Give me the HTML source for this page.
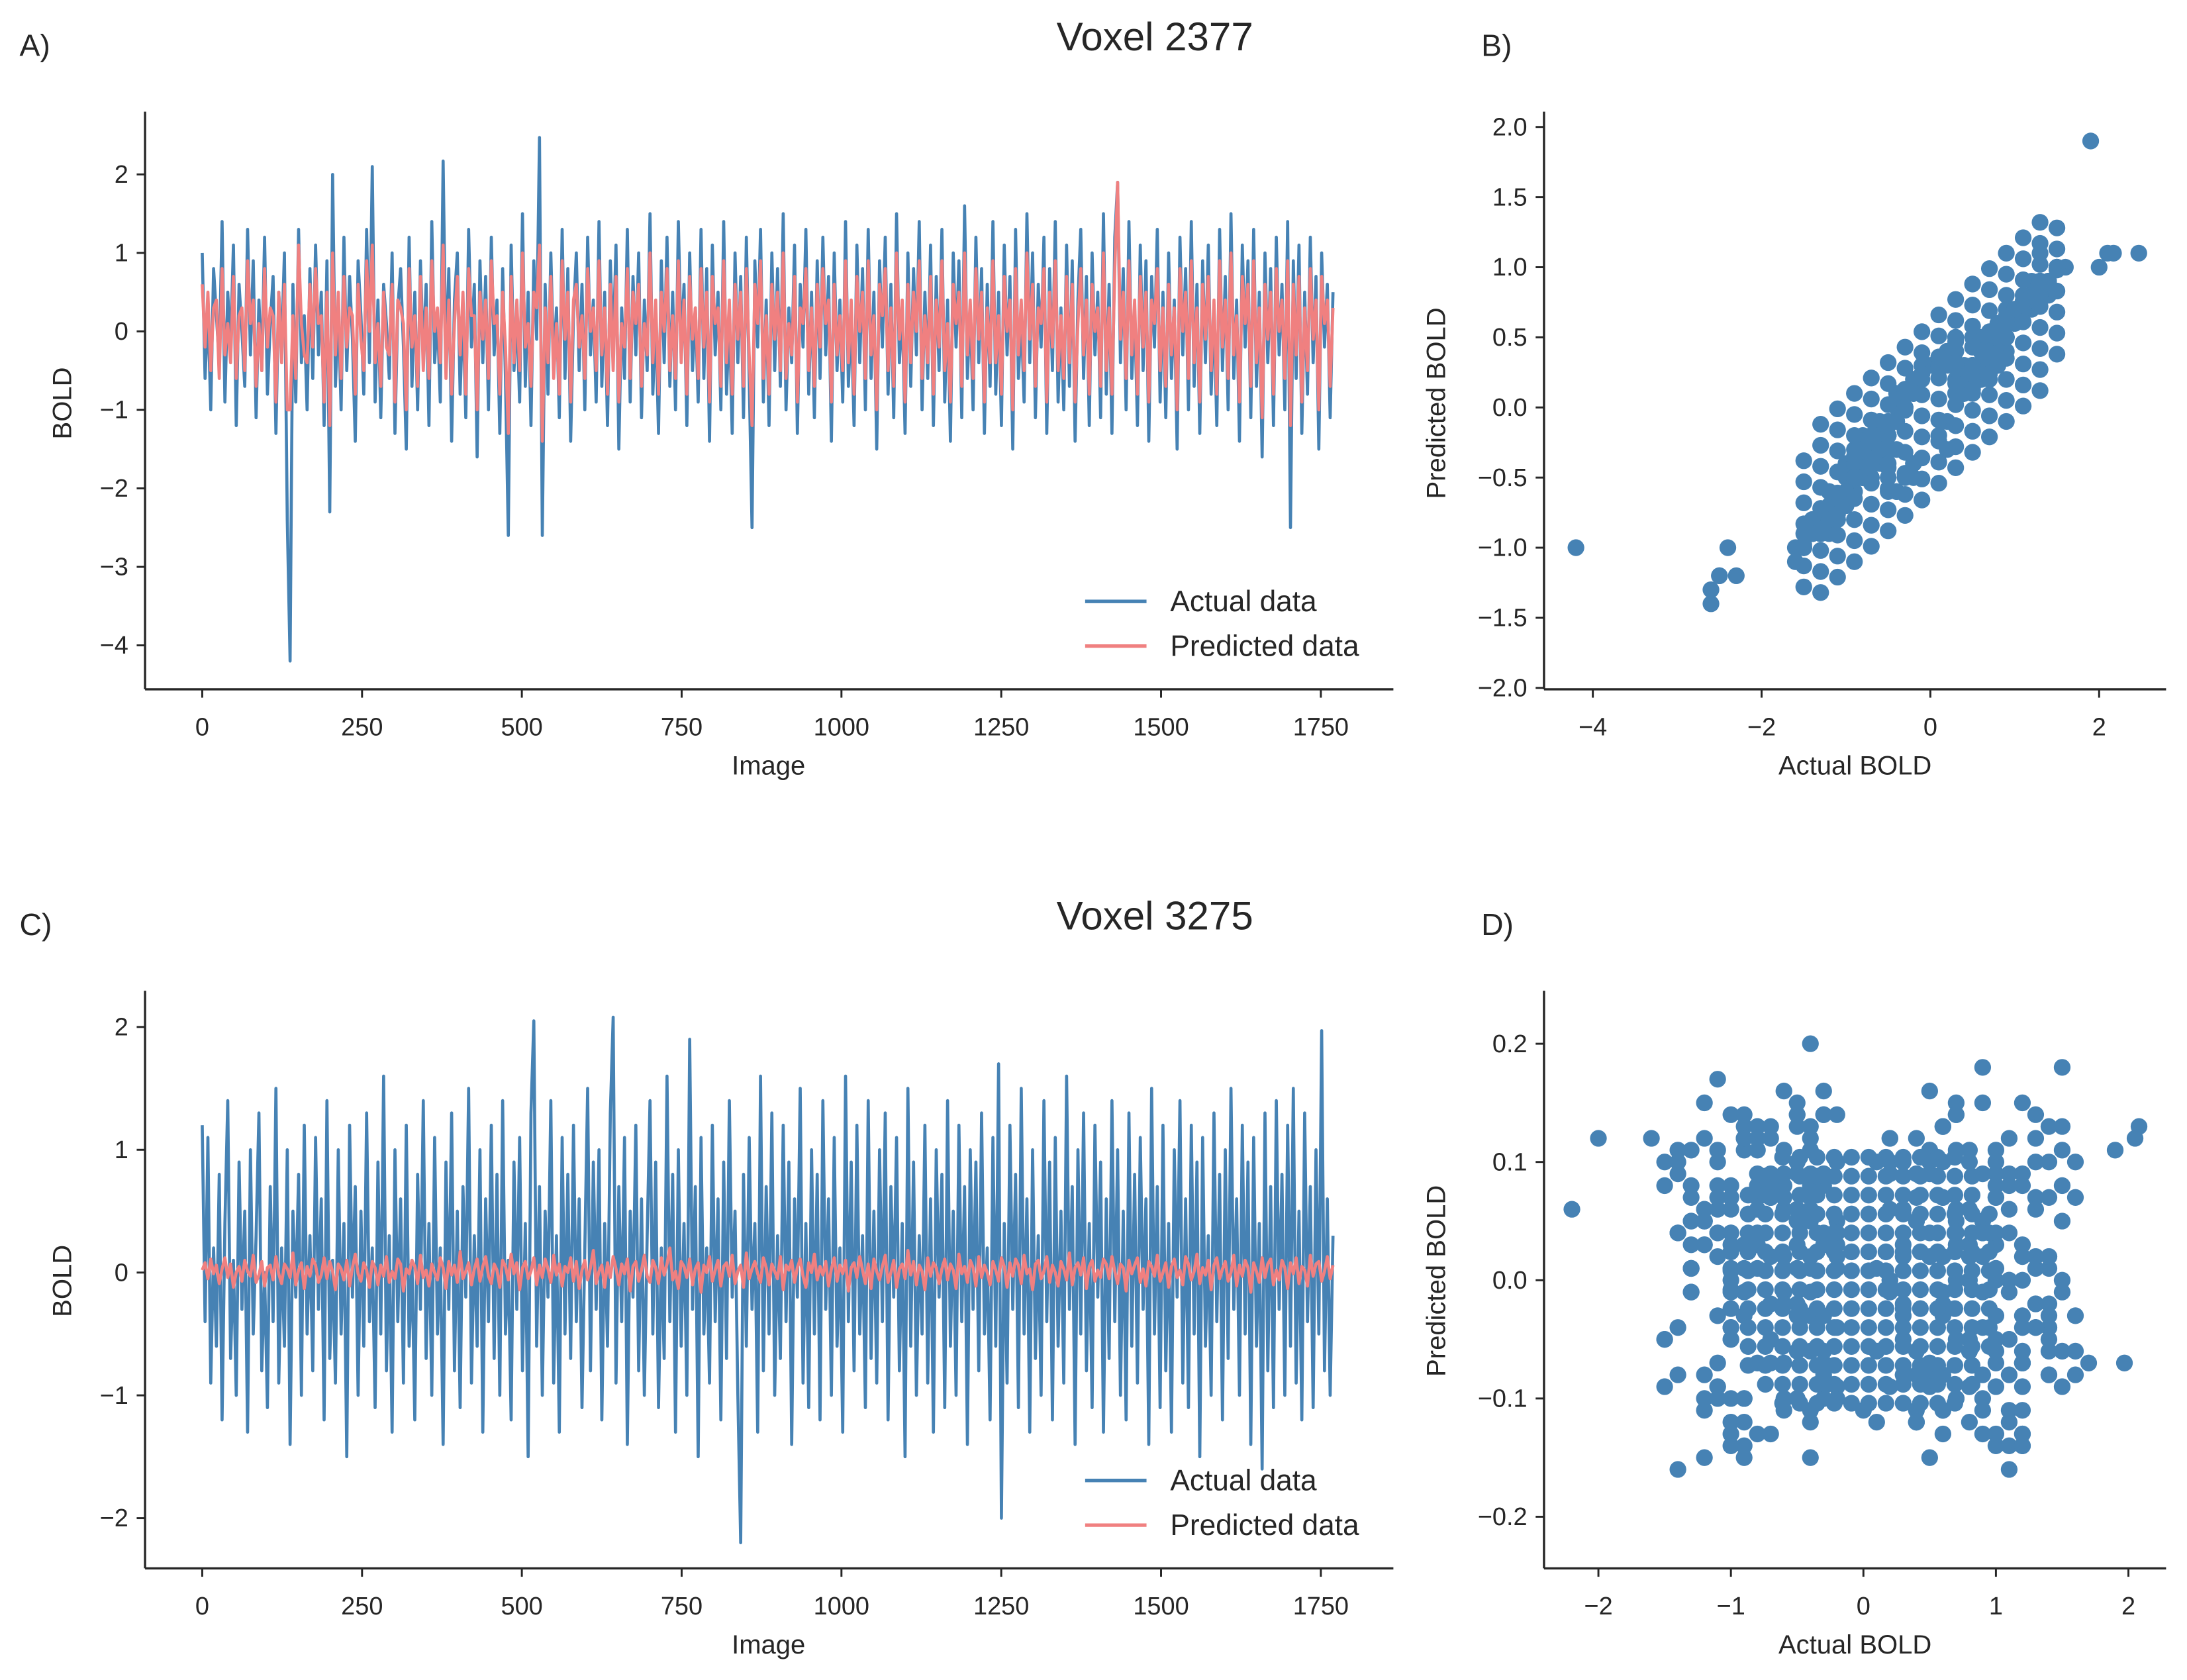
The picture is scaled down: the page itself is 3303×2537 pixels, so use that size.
<!DOCTYPE html>
<html><head><meta charset="utf-8">
<style>
html,body{margin:0;padding:0;background:#fff;}
svg{display:block;}
text{font-family:"Liberation Sans",sans-serif;fill:#262626;}
</style></head>
<body>
<svg id="fig" xmlns="http://www.w3.org/2000/svg" width="3303" height="2537" viewBox="0 0 1568 1204" preserveAspectRatio="none">
<rect width="1568" height="1204" fill="#fff"/>
<text x="14" y="40" font-size="22">A)</text>
<text x="1062" y="40" font-size="22">B)</text>
<text x="14" y="670" font-size="22">C)</text>
<text x="1062" y="670" font-size="22">D)</text>
<text x="828" y="36" font-size="28.5" text-anchor="middle">Voxel 2377</text>
<text x="828" y="666" font-size="28.5" text-anchor="middle">Voxel 3275</text>
<g id="layer"></g>
</svg>
<script>
const aActual=[1.0,-0.6,0.3,-1.0,0.8,0.2,-0.4,1.4,-0.9,0.5,-0.2,1.1,-1.2,0.6,0.0,-0.7,1.3,-0.3,0.9,-1.1,
0.4,-0.5,1.2,-0.8,0.1,0.7,-1.3,0.5,-0.2,1.0,-2.4,-4.2,0.6,-0.9,1.3,-0.4,0.2,-1.0,0.8,-0.6,
1.1,-0.3,0.5,-1.2,0.9,-2.3,2.0,-0.7,0.3,-1.0,1.2,-0.5,0.7,-0.1,-1.4,0.9,0.2,-0.8,1.3,-0.4,
2.1,-0.9,0.4,-1.1,0.6,0.1,-0.6,1.0,-1.3,0.3,0.8,-0.2,-1.5,1.2,-0.7,0.5,-1.0,0.9,-0.3,0.6,
-1.2,1.4,-0.4,0.2,-0.9,2.17,-0.5,0.8,-1.4,0.4,1.0,-0.8,0.3,-1.1,1.3,-0.2,0.6,-1.6,0.9,-0.4,
0.7,-1.0,1.2,-0.3,0.4,-1.3,0.8,-0.6,-2.6,1.1,-0.5,0.2,-0.9,1.5,-0.7,0.5,-1.2,0.9,-0.1,2.47,
-2.6,0.6,-0.8,1.0,-0.4,0.3,-1.1,1.3,-0.6,0.8,-1.4,0.2,1.0,-0.5,0.6,-1.0,1.2,-0.3,0.4,-0.9,
1.4,-0.7,0.5,-1.2,0.9,-0.2,1.1,-1.5,0.3,-0.6,1.3,-0.9,0.7,-0.3,1.0,-1.1,0.4,-0.5,1.5,-0.8,
0.2,-1.3,0.9,-0.4,1.2,-0.7,0.5,-1.0,1.4,-0.2,0.6,-1.2,1.0,-0.5,0.3,-0.9,1.3,-0.6,0.8,-1.4,
1.1,-0.3,0.5,-1.0,1.4,-0.8,0.2,-1.3,1.0,-0.4,0.7,-1.1,1.2,-0.6,-2.5,0.9,-0.2,1.3,-0.9,0.4,
-1.2,1.0,-0.5,0.8,-0.7,1.5,-1.0,0.3,-0.4,1.1,-1.3,0.6,-0.2,1.3,-0.8,0.5,-1.1,0.9,-0.6,1.2,
-0.3,0.7,-1.4,1.0,-0.5,0.4,-0.9,1.4,-0.7,0.2,-1.2,1.1,-0.4,0.8,-1.0,1.3,-0.6,0.5,-1.5,0.9,
-0.2,1.2,-0.8,0.6,-1.1,1.5,-0.4,0.3,-1.3,1.0,-0.7,0.8,-0.3,1.4,-1.0,0.5,-0.6,1.1,-1.2,0.7,
-0.5,1.3,-0.9,0.4,-1.4,1.0,-0.2,0.9,-1.1,1.6,-0.6,0.3,-1.0,1.2,-0.4,0.8,-1.3,0.6,-0.7,1.4,
-0.8,0.5,-1.2,1.1,-0.3,0.7,-1.5,1.3,-0.6,0.2,-0.9,1.5,-0.4,1.0,-1.1,0.6,-0.2,1.2,-1.3,0.8,
-0.5,1.4,-0.9,0.3,-1.0,1.1,-0.7,0.9,-1.4,0.4,1.3,-0.6,0.7,-1.2,1.0,-0.3,0.5,-1.1,1.5,-0.8,
0.6,-1.3,1.2,1.9,-0.4,0.8,-1.0,1.4,-0.6,0.3,-1.2,1.1,-0.5,0.9,-1.4,0.7,-0.2,1.3,-0.9,0.5,
-1.1,1.0,-0.6,0.4,-1.5,1.2,-0.3,0.8,-1.0,1.4,-0.7,0.6,-1.3,0.9,-0.4,1.1,-0.8,0.3,-1.2,1.3,
-0.5,0.7,-1.0,1.5,-0.6,0.4,-1.4,1.1,-0.2,0.9,-1.1,1.3,-0.7,0.5,-1.6,1.0,-0.4,0.8,-1.2,1.2,
-0.3,0.6,-1.0,1.4,-2.5,0.9,-0.6,1.1,-1.3,0.5,-0.8,1.2,-0.4,0.7,-1.5,1.0,-0.2,0.6,-1.1,0.5];
const aPredicted=[0.6,-0.2,0.5,-0.5,0.3,0.4,-0.6,0.8,-0.3,0.1,-0.4,0.7,-0.6,0.2,0.3,-0.5,0.9,0.1,0.4,-0.7,
0.1,-0.5,0.8,-0.2,0.3,0.2,-0.9,0.5,-0.4,0.6,-1.0,-1.0,0.2,-0.6,1.1,0.1,-0.3,-0.4,0.6,-0.2,
0.8,0.1,0.2,-0.9,0.5,-1.2,1.0,-0.3,0.5,-0.6,0.7,-0.2,0.3,0.2,-0.8,0.6,-0.1,-0.5,0.9,0.0,
1.1,-0.4,0.1,-0.7,0.5,-0.2,-0.3,0.6,-0.9,0.4,0.3,0.1,-1.0,0.8,-0.2,0.2,-0.7,0.7,-0.5,0.3,
-0.6,0.9,0.0,0.3,-0.4,1.1,-0.6,0.4,-0.8,0.1,0.7,-0.3,0.5,-0.8,0.8,0.2,0.2,-1.0,0.5,-0.1,
0.4,-0.6,0.9,0.1,0.2,-0.8,0.5,-0.2,-1.3,0.7,-0.4,0.4,-0.5,1.0,-0.2,0.1,-0.7,0.5,0.3,1.1,
-1.4,0.3,-0.4,0.7,-0.6,0.1,-0.8,0.9,-0.1,0.5,-0.9,0.4,0.6,-0.2,0.2,-0.6,0.8,0.0,0.3,-0.5,
0.9,-0.3,0.3,-0.8,0.6,-0.5,0.7,-0.9,0.1,-0.2,0.8,-0.6,0.5,0.1,0.6,-0.7,0.1,-0.3,1.0,-0.4,
0.4,-0.8,0.5,0.0,0.8,-0.5,0.2,-0.6,0.9,-0.4,0.4,-0.8,0.7,-0.1,0.3,-0.6,0.8,-0.2,0.5,-0.9,
0.7,0.1,0.3,-0.7,0.9,-0.4,0.4,-0.8,0.6,-0.1,0.5,-0.7,0.8,-0.3,-1.2,0.6,0.1,0.9,-0.6,0.2,
-0.8,0.6,-0.1,0.5,-0.5,1.0,-0.6,0.1,-0.3,0.7,-0.9,0.3,0.1,0.8,-0.5,0.3,-0.7,0.6,-0.2,0.8,
0.1,0.4,-0.9,0.6,-0.3,0.2,-0.5,0.9,-0.4,0.4,-0.8,0.7,0.0,0.5,-0.6,0.9,-0.3,0.2,-1.0,0.6,
0.2,0.8,-0.5,0.3,-0.7,1.0,-0.1,0.4,-0.9,0.6,-0.4,0.5,0.0,0.9,-0.6,0.2,-0.4,0.7,-0.8,0.4,
-0.2,0.9,-0.5,0.1,-0.9,0.6,0.1,0.5,-0.7,1.0,-0.3,0.4,-0.6,0.8,-0.1,0.5,-0.9,0.3,-0.4,0.9,
-0.4,0.2,-0.8,0.7,0.0,0.4,-1.0,0.8,-0.3,0.4,-0.5,1.0,-0.1,0.6,-0.7,0.3,0.1,0.8,-0.9,0.5,
-0.2,0.9,-0.5,0.2,-0.6,0.7,-0.4,0.6,-0.9,0.1,0.8,-0.3,0.4,-0.8,0.6,0.0,0.3,-0.7,1.0,-0.5,
0.3,-0.8,0.8,1.9,-0.1,0.5,-0.6,0.9,-0.3,0.4,-0.8,0.7,-0.2,0.5,-0.9,0.4,0.1,0.8,-0.5,0.3,
-0.7,0.6,-0.3,0.3,-1.0,0.8,0.0,0.5,-0.6,0.9,-0.4,0.3,-0.9,0.6,-0.1,0.7,-0.5,0.4,-0.8,0.9,
-0.2,0.4,-0.6,1.0,-0.3,0.2,-0.9,0.7,0.1,0.6,-0.7,0.9,-0.4,0.3,-1.1,0.6,-0.1,0.5,-0.8,0.8,
0.0,0.4,-0.6,0.9,-1.2,0.6,-0.3,0.7,-0.9,0.3,-0.5,0.8,-0.1,0.4,-1.0,0.7,0.1,0.4,-0.7,0.3];
const cActual=[1.2,-0.4,1.1,-0.9,0.2,-0.6,0.8,-1.2,0.4,1.4,-0.7,0.1,-1.0,0.9,-0.3,0.5,-1.3,1.0,-0.5,0.3,
1.3,-0.8,0.0,-1.1,0.7,-0.4,1.5,-0.9,0.2,-0.6,1.0,-1.4,0.5,-0.2,0.8,-1.0,1.2,-0.5,0.3,-0.8,
1.1,-0.3,0.6,-1.2,1.4,-0.7,0.1,-0.9,1.0,-0.5,0.4,-1.5,1.2,-0.2,0.7,-1.0,0.5,-0.6,1.3,-0.4,
0.2,-1.1,0.9,-0.5,1.6,-0.8,0.3,-1.3,1.0,-0.4,0.6,-0.9,1.2,-0.6,0.1,-1.2,0.8,-0.3,1.4,-0.7,
0.4,-1.0,1.1,-0.5,0.2,-1.4,0.9,-0.3,1.3,-0.8,0.5,-1.1,0.7,-0.2,1.5,-0.9,0.3,-0.6,1.0,-1.3,
0.6,-0.4,1.2,-0.7,0.8,-1.0,1.4,-0.5,0.1,-1.2,0.9,-0.3,1.1,-0.8,0.4,-1.5,1.3,2.05,-0.6,0.7,
-1.0,0.5,-0.2,1.4,-0.9,0.3,-1.3,1.1,-0.5,0.8,-0.7,1.2,-0.4,0.6,-1.1,0.2,1.5,-0.8,0.9,-0.3,
1.0,-1.2,0.4,-0.6,1.3,2.08,-0.9,0.7,-0.4,1.1,-1.4,0.5,-0.2,1.2,-0.8,0.6,-1.0,0.3,1.4,-0.5,
0.9,-1.1,0.2,-0.7,1.6,-0.4,0.8,-1.3,1.0,-0.6,0.4,-1.0,1.9,-0.3,0.7,-1.5,1.1,-0.5,0.2,-0.9,
1.2,-0.4,0.6,-1.2,0.9,-0.7,1.4,-0.2,0.5,-1.0,-2.2,0.8,-0.6,1.1,-0.3,0.4,-1.3,1.6,-0.8,0.7,
-0.5,1.3,-1.0,0.3,-0.7,1.2,-0.4,0.9,-1.4,0.6,-0.2,1.5,-0.9,0.4,-1.1,1.0,-0.5,0.8,-1.2,1.4,
-0.3,0.6,-1.0,1.1,-0.6,0.2,-1.3,1.6,-0.4,0.9,-0.8,1.2,-0.5,0.3,-1.1,1.4,-0.7,0.5,-0.9,1.0,
-0.4,1.3,-1.2,0.7,-0.2,1.1,-0.8,0.4,-1.5,1.5,-0.6,0.9,-1.0,0.3,-0.5,1.2,-0.9,0.6,-1.3,1.0,
-0.2,0.8,-1.1,1.4,-0.6,0.5,-1.0,1.2,-0.4,0.7,-1.4,1.0,-0.3,0.9,-0.8,1.3,-0.5,0.2,-1.2,1.1,
-0.6,1.7,-2.0,0.4,-0.9,1.2,-0.3,0.8,-1.1,1.5,-0.5,0.6,-1.3,1.0,-0.7,0.3,-1.0,1.4,-0.4,0.9,
-1.2,1.1,-0.6,0.5,-0.9,1.6,-0.3,0.7,-1.4,1.0,-0.5,1.3,-0.8,0.4,-1.1,1.2,-0.2,0.9,-1.3,0.6,
-0.7,1.4,-0.4,1.0,-1.0,0.5,-1.2,1.3,-0.6,0.8,-0.9,1.1,-0.3,0.6,-1.4,1.5,-0.5,0.7,-1.1,1.2,
-0.8,0.4,-1.3,1.0,-0.2,1.4,-0.9,0.6,-1.1,1.2,-0.5,0.9,-1.5,1.1,-0.6,0.3,-1.0,1.3,-0.4,0.8,
-1.2,1.0,-0.7,1.5,-0.3,0.6,-1.0,1.2,-0.5,0.9,-1.4,1.1,-0.6,0.4,-1.6,1.3,-0.8,0.7,-1.1,1.4,
-0.3,0.8,-1.0,1.2,-0.6,1.5,-0.9,0.5,-1.2,1.3,-0.4,0.7,-1.1,1.0,-0.5,1.97,-0.8,0.6,-1.0,0.3];
const cPredicted=[0.02,0.08,-0.05,0.11,-0.01,0.06,-0.09,0.03,0.12,-0.04,0.07,-0.12,0.00,0.05,-0.07,0.10,0.01,-0.03,0.14,-0.08,
-0.02,0.09,-0.11,0.04,0.06,-0.06,0.13,-0.01,-0.09,0.07,0.03,-0.04,0.16,-0.10,0.02,0.08,-0.13,0.05,-0.03,0.11,
0.06,-0.08,-0.02,0.12,-0.05,0.09,0.01,-0.14,0.07,0.03,-0.06,0.10,-0.11,0.04,0.15,-0.01,-0.07,0.08,0.02,-0.12,
0.09,0.04,-0.10,0.06,-0.03,0.13,-0.08,0.01,-0.05,0.11,0.07,-0.15,0.03,-0.01,0.10,0.05,-0.09,0.14,-0.04,0.02,
-0.11,0.07,0.00,-0.06,0.12,0.04,-0.13,0.09,-0.02,0.06,-0.08,0.17,-0.05,0.01,0.08,-0.10,0.03,0.11,-0.07,0.05,
0.13,-0.03,-0.09,0.07,0.02,-0.12,0.10,0.05,-0.06,0.15,-0.01,0.08,-0.14,0.04,0.09,-0.05,0.01,0.12,-0.10,0.06,
-0.04,0.11,0.03,-0.08,0.14,-0.02,0.07,-0.11,0.05,0.00,0.12,-0.07,0.09,-0.13,0.02,0.10,-0.06,0.04,0.18,-0.09,
0.01,0.06,-0.12,0.08,-0.04,0.13,0.03,-0.10,0.07,-0.01,0.11,-0.15,0.05,0.09,-0.07,0.02,0.14,-0.03,-0.08,0.10,
0.04,-0.09,0.12,-0.02,0.07,0.20,-0.06,0.01,-0.13,0.09,0.05,-0.04,0.11,-0.10,0.03,0.08,-0.16,0.06,0.00,0.13,
-0.07,0.02,0.10,-0.11,0.05,0.08,-0.03,0.14,-0.09,0.01,0.06,-0.12,0.16,-0.05,0.03,0.09,-0.01,-0.08,0.12,0.04,
-0.10,0.07,0.01,-0.05,0.13,-0.14,0.06,0.02,0.10,-0.08,0.04,0.11,-0.03,-0.12,0.08,0.00,0.15,-0.06,0.05,-0.02,
0.09,-0.11,0.03,0.12,-0.07,0.06,-0.01,0.10,-0.15,0.04,0.08,-0.04,0.13,0.02,-0.09,0.07,-0.13,0.11,0.01,-0.06,
0.05,0.14,-0.08,0.00,0.10,-0.12,0.03,0.07,-0.05,0.18,-0.02,0.09,-0.10,0.06,0.01,-0.14,0.12,-0.03,0.08,0.04,
-0.09,0.03,0.11,-0.06,0.07,0.02,-0.13,0.15,-0.01,0.05,-0.08,0.10,0.04,-0.11,0.13,-0.04,0.06,0.00,-0.10,0.09,
0.02,-0.07,0.12,0.05,-0.12,0.08,-0.03,0.11,0.06,-0.09,0.14,-0.01,0.03,-0.14,0.07,0.10,-0.05,0.01,0.13,-0.08,
0.06,0.00,-0.11,0.09,0.03,-0.06,0.16,-0.10,0.04,0.08,-0.02,0.12,-0.13,0.05,0.10,-0.07,0.02,-0.04,0.11,0.07,
-0.05,0.13,0.01,-0.09,0.07,0.04,-0.15,0.10,-0.01,0.06,0.12,-0.08,0.03,-0.11,0.09,0.05,-0.03,0.14,-0.07,0.00,
0.08,-0.12,0.05,0.11,-0.04,0.02,-0.10,0.13,0.07,-0.06,0.01,0.15,-0.09,0.04,-0.02,0.10,-0.14,0.06,0.12,-0.05,
0.03,0.09,-0.07,0.00,0.14,-0.11,0.06,-0.03,0.10,0.04,-0.16,0.08,0.01,-0.08,0.12,-0.04,0.07,0.11,-0.10,0.02,
-0.06,0.10,0.04,-0.13,0.08,-0.01,0.12,-0.09,0.05,0.02,-0.11,0.14,-0.03,0.07,0.09,-0.07,0.01,0.13,-0.05,0.06];
// additional samples shown in the scatter panels (dense core of the distribution)
const bCoreActual=[-1.5,-1.5,-1.5,-1.5,-1.5,-1.5,-1.5,
-1.3,-1.3,-1.3,-1.3,-1.3,-1.3,-1.3,-1.3,-1.3,
-1.1,-1.1,-1.1,-1.1,-1.1,-1.1,-1.1,-1.1,-1.1,
-0.9,-0.9,-0.9,-0.9,-0.9,-0.9,-0.9,-0.9,-0.9,
-0.7,-0.7,-0.7,-0.7,-0.7,-0.7,-0.7,-0.7,-0.7,
-0.5,-0.5,-0.5,-0.5,-0.5,-0.5,-0.5,-0.5,-0.5,
-0.3,-0.3,-0.3,-0.3,-0.3,-0.3,-0.3,-0.3,-0.3,
-0.1,-0.1,-0.1,-0.1,-0.1,-0.1,-0.1,-0.1,-0.1,
0.1,0.1,0.1,0.1,0.1,0.1,0.1,0.1,0.1,
0.3,0.3,0.3,0.3,0.3,0.3,0.3,0.3,0.3,
0.5,0.5,0.5,0.5,0.5,0.5,0.5,0.5,0.5,
0.7,0.7,0.7,0.7,0.7,0.7,0.7,0.7,0.7,
0.9,0.9,0.9,0.9,0.9,0.9,0.9,0.9,0.9,
1.1,1.1,1.1,1.1,1.1,1.1,1.1,1.1,1.1,
1.3,1.3,1.3,1.3,1.3,1.3,1.3,1.3,1.3,
1.5,1.5,1.5,1.5,1.5,1.5,1.5];
const bCorePredicted=[-1.28,-1.13,-0.98,-0.83,-0.68,-0.53,-0.38,
-1.32,-1.17,-1.02,-0.87,-0.72,-0.57,-0.42,-0.27,-0.12,
-1.21,-1.06,-0.91,-0.76,-0.61,-0.46,-0.31,-0.16,-0.01,
-1.1,-0.95,-0.8,-0.65,-0.5,-0.35,-0.2,-0.05,0.1,
-0.99,-0.84,-0.69,-0.54,-0.39,-0.24,-0.09,0.06,0.21,
-0.88,-0.73,-0.58,-0.43,-0.28,-0.13,0.02,0.17,0.32,
-0.77,-0.62,-0.47,-0.32,-0.17,-0.02,0.13,0.28,0.43,
-0.66,-0.51,-0.36,-0.21,-0.06,0.09,0.24,0.39,0.54,
-0.54,-0.39,-0.24,-0.09,0.06,0.21,0.36,0.51,0.66,
-0.43,-0.28,-0.13,0.02,0.17,0.32,0.47,0.62,0.77,
-0.32,-0.17,-0.02,0.13,0.28,0.43,0.58,0.73,0.88,
-0.21,-0.06,0.09,0.24,0.39,0.54,0.69,0.84,0.99,
-0.1,0.05,0.2,0.35,0.5,0.65,0.8,0.95,1.1,
0.01,0.16,0.31,0.46,0.61,0.76,0.91,1.06,1.21,
0.12,0.27,0.42,0.57,0.72,0.87,1.02,1.17,1.32,
0.38,0.53,0.68,0.83,0.98,1.13,1.28];
const dCoreActual=[-1.0,-1.0,-1.0,-1.0,-1.0,-1.0,
-0.87,-0.87,-0.87,-0.87,-0.87,-0.87,-0.87,-0.87,-0.87,-0.87,
-0.74,-0.74,-0.74,-0.74,-0.74,-0.74,-0.74,-0.74,-0.74,-0.74,-0.74,-0.74,
-0.61,-0.61,-0.61,-0.61,-0.61,-0.61,-0.61,-0.61,-0.61,-0.61,-0.61,-0.61,-0.61,-0.61,
-0.48,-0.48,-0.48,-0.48,-0.48,-0.48,-0.48,-0.48,-0.48,-0.48,-0.48,-0.48,-0.48,-0.48,
-0.35,-0.35,-0.35,-0.35,-0.35,-0.35,-0.35,-0.35,-0.35,-0.35,-0.35,-0.35,-0.35,-0.35,
-0.22,-0.22,-0.22,-0.22,-0.22,-0.22,-0.22,-0.22,-0.22,-0.22,-0.22,-0.22,-0.22,-0.22,
-0.09,-0.09,-0.09,-0.09,-0.09,-0.09,-0.09,-0.09,-0.09,-0.09,-0.09,-0.09,-0.09,-0.09,
0.04,0.04,0.04,0.04,0.04,0.04,0.04,0.04,0.04,0.04,0.04,0.04,0.04,0.04,
0.17,0.17,0.17,0.17,0.17,0.17,0.17,0.17,0.17,0.17,0.17,0.17,0.17,0.17,
0.30,0.30,0.30,0.30,0.30,0.30,0.30,0.30,0.30,0.30,0.30,0.30,0.30,0.30,
0.43,0.43,0.43,0.43,0.43,0.43,0.43,0.43,0.43,0.43,0.43,0.43,0.43,0.43,
0.56,0.56,0.56,0.56,0.56,0.56,0.56,0.56,0.56,0.56,0.56,0.56,0.56,0.56,
0.69,0.69,0.69,0.69,0.69,0.69,0.69,0.69,0.69,0.69,0.69,0.69,0.69,0.69,
0.82,0.82,0.82,0.82,0.82,0.82,0.82,0.82,0.82,0.82,0.82,0.82,
0.95,0.95,0.95,0.95,0.95,0.95,0.95,0.95];
const dCorePredicted=[-0.04,-0.024,-0.008,0.008,0.024,0.04,
-0.072,-0.056,-0.04,-0.024,-0.008,0.008,0.024,0.04,0.056,0.072,
-0.088,-0.072,-0.056,-0.04,-0.024,-0.008,0.008,0.024,0.04,0.056,0.072,0.088,
-0.104,-0.088,-0.072,-0.056,-0.04,-0.024,-0.008,0.008,0.024,0.04,0.056,0.072,0.088,0.104,
-0.104,-0.088,-0.072,-0.056,-0.04,-0.024,-0.008,0.008,0.024,0.04,0.056,0.072,0.088,0.104,
-0.104,-0.088,-0.072,-0.056,-0.04,-0.024,-0.008,0.008,0.024,0.04,0.056,0.072,0.088,0.104,
-0.104,-0.088,-0.072,-0.056,-0.04,-0.024,-0.008,0.008,0.024,0.04,0.056,0.072,0.088,0.104,
-0.104,-0.088,-0.072,-0.056,-0.04,-0.024,-0.008,0.008,0.024,0.04,0.056,0.072,0.088,0.104,
-0.104,-0.088,-0.072,-0.056,-0.04,-0.024,-0.008,0.008,0.024,0.04,0.056,0.072,0.088,0.104,
-0.104,-0.088,-0.072,-0.056,-0.04,-0.024,-0.008,0.008,0.024,0.04,0.056,0.072,0.088,0.104,
-0.104,-0.088,-0.072,-0.056,-0.04,-0.024,-0.008,0.008,0.024,0.04,0.056,0.072,0.088,0.104,
-0.104,-0.088,-0.072,-0.056,-0.04,-0.024,-0.008,0.008,0.024,0.04,0.056,0.072,0.088,0.104,
-0.104,-0.088,-0.072,-0.056,-0.04,-0.024,-0.008,0.008,0.024,0.04,0.056,0.072,0.088,0.104,
-0.104,-0.088,-0.072,-0.056,-0.04,-0.024,-0.008,0.008,0.024,0.04,0.056,0.072,0.088,0.104,
-0.088,-0.072,-0.056,-0.04,-0.024,-0.008,0.008,0.024,0.04,0.056,0.072,0.088,
-0.056,-0.04,-0.024,-0.008,0.008,0.024,0.04,0.056];
const xTicks=[0,250,500,750,1000,1250,1500,1750];
const aYTicks=[2,1,0,-1,-2,-3,-4];
const cYTicks=[2,1,0,-1,-2];
const bXTicks=[-4,-2,0,2];
const bYTicks=[2.0,1.5,1.0,0.5,0.0,-0.5,-1.0,-1.5,-2.0];
const dXTicks=[-2,-1,0,1,2];
const dYTicks=[0.2,0.1,0.0,-0.1,-0.2];
const nImages=1770;

const NS="http://www.w3.org/2000/svg";
const layer=document.getElementById('layer');
function mk(tag,attrs,parent){const e=document.createElementNS(NS,tag);for(const k in attrs)e.setAttribute(k,attrs[k]);(parent||layer).appendChild(e);return e;}
function lin(d0,d1,r0,r1){return v=>r0+(v-d0)*(r1-r0)/(d1-d0);}
function fmt(v,dec){let s=dec?v.toFixed(dec):String(v);return s.replace('-','\u2212');}

function axes(p){
  const g=mk('g',{});
  
  
  mk('line',{x1:p.L,y1:p.T,x2:p.L,y2:p.B,stroke:'#262626','stroke-width':1.6},g);
  mk('line',{x1:p.L,y1:p.B,x2:p.R,y2:p.B,stroke:'#262626','stroke-width':1.6},g);
  p.xt.forEach(v=>{const x=p.sx(v);
    mk('line',{x1:x,y1:p.B,x2:x,y2:p.B+6,stroke:'#262626','stroke-width':1.4},g);
    const t=mk('text',{x:x,y:p.B+33,'font-size':18,'text-anchor':'middle'},g);t.textContent=fmt(v,0);
    
    });
  p.yt.forEach(v=>{const y=p.sy(v);
    mk('line',{x1:p.L-6,y1:y,x2:p.L,y2:y,stroke:'#262626','stroke-width':1.4},g);
    const t=mk('text',{x:p.L-12,y:y+6,'font-size':18,'text-anchor':'end'},g);t.textContent=fmt(v,p.ydec);
    
    });
  const xl=mk('text',{x:p.xlx,y:p.B+61,'font-size':19,'text-anchor':'middle'},g);xl.textContent=p.xlabel;
  
  
  const yl=mk('text',{x:0,y:0,'font-size':19,'text-anchor':'middle',transform:`translate(${p.ylx},${p.yly}) rotate(-90)`},g);yl.textContent=p.ylabel;
  
  
  return g;
}
function series(vals,sx,sy,color,name){
  const pts=vals.map((v,i)=>sx(i*(nImages-1)/(vals.length-1)).toFixed(2)+','+sy(v).toFixed(2)).join(' ');
  const pl=mk('polyline',{points:pts,fill:'none',stroke:color,'stroke-width':2.2,'stroke-linejoin':'round'});
  
  
}
function legend(y0){
  const g=mk('g',{});
  
  
  [['#4682b4','Actual data'],['#f08080','Predicted data']].forEach((e,i)=>{
    const y=y0+i*32;
    mk('line',{x1:778,y1:y,x2:822,y2:y,stroke:e[0],'stroke-width':2.5},g);
    const t=mk('text',{x:839,y:y+7,'font-size':21},g);t.textContent=e[1];
    
    
  });
}
function scatter(xs,ys,sx,sy,name){
  const g=mk('g',{});
  
  
  xs.forEach((v,i)=>{const c=mk('circle',{cx:sx(v),cy:sy(ys[i]),r:6,fill:'#4682b4'},g);
    
    });
}
const aSx=lin(0,1750,145,947), aSy=lin(0,2,237.5,125);
axes({name:'panel-a-axes',L:104,R:999,T:80,B:494,sx:aSx,sy:aSy,xt:xTicks,yt:aYTicks,ydec:0,xlabel:'Image',xlx:551,ylabel:'BOLD',ylx:51,yly:289});
series(aActual,aSx,aSy,'#4682b4','actual-line-a');
series(aPredicted,aSx,aSy,'#f08080','predicted-line-a');
legend(431);
const bSx=lin(0,2,1384,1505), bSy=lin(0,2,292,91);
axes({name:'panel-b-axes',L:1107,R:1553,T:80,B:494,sx:bSx,sy:bSy,xt:bXTicks,yt:bYTicks,ydec:1,xlabel:'Actual BOLD',xlx:1330,ylabel:'Predicted BOLD',ylx:1036,yly:289});
scatter(aActual,aPredicted,bSx,bSy,'scatter-b');
scatter(bCoreActual,bCorePredicted,bSx,bSy,'scatter-b-core');
const cSx=aSx, cSy=lin(0,2,912,736);
axes({name:'panel-c-axes',L:104,R:999,T:710,B:1124,sx:cSx,sy:cSy,xt:xTicks,yt:cYTicks,ydec:0,xlabel:'Image',xlx:551,ylabel:'BOLD',ylx:51,yly:918});
series(cActual,cSx,cSy,'#4682b4','actual-line-c');
series(cPredicted,cSx,cSy,'#f08080','predicted-line-c');
legend(1061);
const dSx=lin(0,2,1336,1526), dSy=lin(0,0.2,917.5,748);
axes({name:'panel-d-axes',L:1107,R:1553,T:710,B:1124,sx:dSx,sy:dSy,xt:dXTicks,yt:dYTicks,ydec:1,xlabel:'Actual BOLD',xlx:1330,ylabel:'Predicted BOLD',ylx:1036,yly:918});
scatter(cActual,cPredicted,dSx,dSy,'scatter-d');
scatter(dCoreActual,dCorePredicted,dSx,dSy,'scatter-d-core');
</script>
</body></html>
